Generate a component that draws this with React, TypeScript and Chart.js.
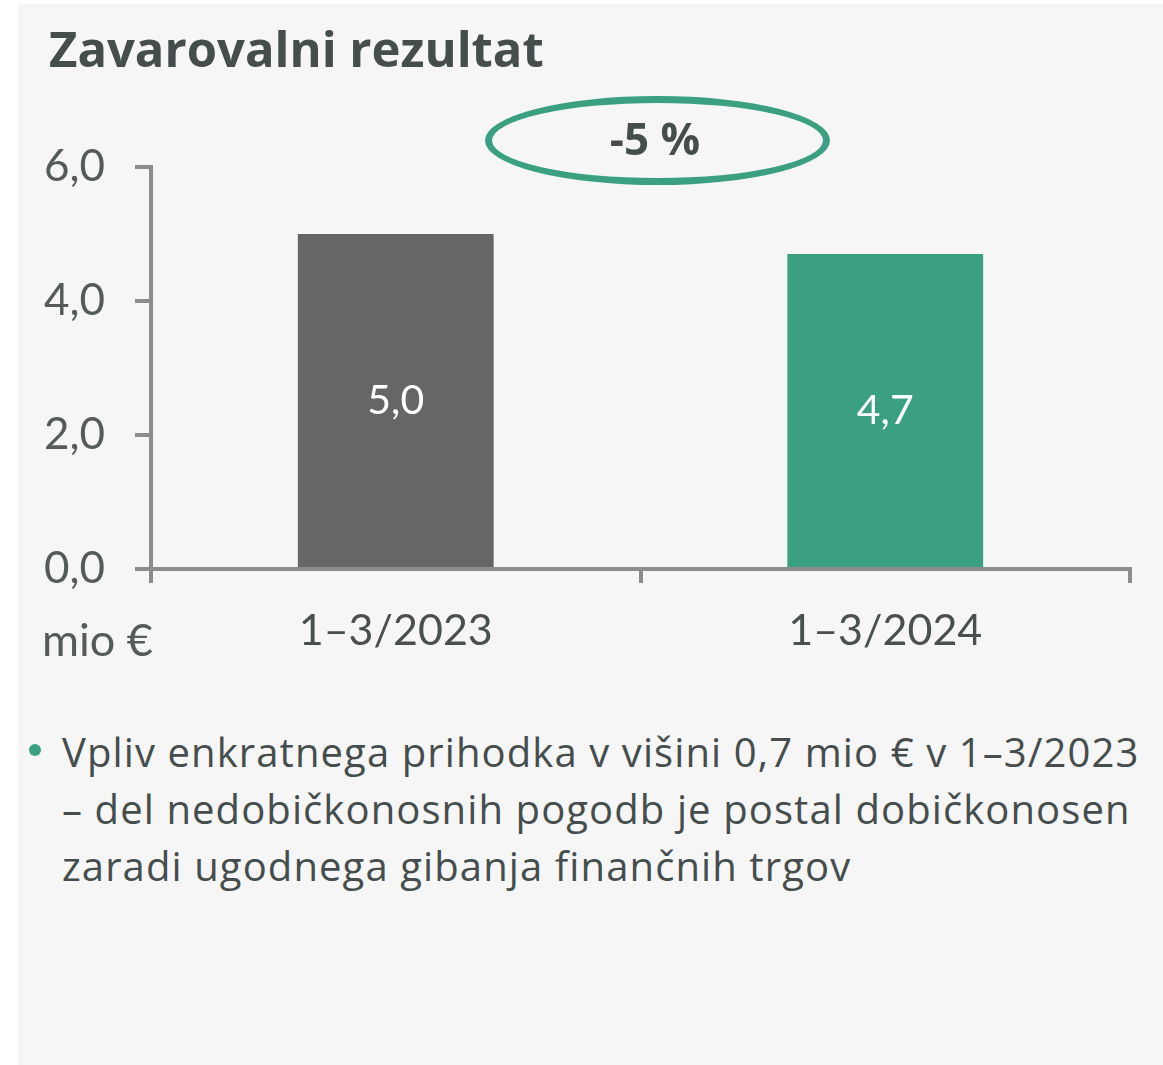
import React, { useEffect, useRef } from "react";
import { Chart, registerables } from "chart.js";

Chart.register(...registerables);

const categories = ["1–3/2023", "1–3/2024"];
const barValues = [5.0, 4.7];
const barColors = ["#666666", "#3ba082"];
const yTicks = [0, 2, 4, 6];
const titleText = "Zavarovalni rezultat";
const changeText = "-5 %";
const unitText = "mio €";
const bulletLines = [
  "Vpliv enkratnega prihodka v višini 0,7 mio € v 1–3/2023",
  "– del nedobičkonosnih pogodb je postal dobičkonosen",
  "zaradi ugodnega gibanja finančnih trgov",
];

const AXIS = "#8c8c8c";
const TEXT = "#454d4d";
const GREEN = "#3ba082";

const fmt = (v: number) => v.toFixed(1).replace(".", ",");

const barLabelPlugin = {
  id: "barLabels",
  afterDatasetsDraw(chart: any) {
    const ctx = chart.ctx;
    const meta = chart.getDatasetMeta(0);
    ctx.save();
    ctx.fillStyle = "#ffffff";
    ctx.font = "41px Lato";
    ctx.textAlign = "center";
    ctx.textBaseline = "middle";
    meta.data.forEach((bar: any, i: number) => {
      const v = chart.data.datasets[0].data[i] as number;
      ctx.fillText(fmt(v), bar.x, (bar.y + bar.base) / 2);
    });
    ctx.restore();
  },
};

export default function App() {
  const ref = useRef<HTMLCanvasElement | null>(null);

  useEffect(() => {
    if (!ref.current) return;
    const chart = new Chart(ref.current, {
      type: "bar",
      data: {
        labels: categories,
        datasets: [
          {
            data: barValues,
            backgroundColor: barColors,
            borderWidth: 0,
            categoryPercentage: 0.8,
            barPercentage: 0.5,
          },
        ],
      },
      options: {
        animation: false,
        responsive: false,
        devicePixelRatio: 1,
        layout: { padding: { left: 0, top: 167, right: 33, bottom: 0 } },
        plugins: { legend: { display: false }, tooltip: { enabled: false } },
        scales: {
          x: {
            grid: {
              display: true,
              drawOnChartArea: false,
              drawTicks: true,
              tickLength: 14,
              color: AXIS,
              lineWidth: 4,
              offset: true,
            },
            border: { display: true, color: AXIS, width: 4 },
            ticks: {
              font: { family: "Lato", size: 43 },
              color: "#4a4f4f",
              padding: 22,
            },
            afterFit: (s: any) => {
              s.height = 131;
            },
          },
          y: {
            min: 0,
            max: 6,
            afterBuildTicks: (s: any) => {
              s.ticks = yTicks.map((v) => ({ value: v }));
            },
            grid: {
              display: true,
              drawOnChartArea: false,
              drawTicks: true,
              tickLength: 16,
              color: AXIS,
              lineWidth: 4,
            },
            border: { display: true, color: AXIS, width: 4 },
            ticks: {
              font: { family: "Lato", size: 44 },
              color: "#555a5a",
              padding: 30,
              callback: (v: any) => fmt(Number(v)),
            },
            afterFit: (s: any) => {
              s.width = 151;
            },
          },
        },
      },
      plugins: [barLabelPlugin],
    });
    return () => chart.destroy();
  }, []);

  return (
    <div
      style={{
        position: "absolute",
        left: 0,
        top: 0,
        width: 1163,
        height: 1065,
        background: "#ffffff",
        overflow: "hidden",
      }}
    >
      <div
        style={{
          position: "absolute",
          left: 18,
          top: 4,
          width: 1145,
          height: 1061,
          background: "#f6f6f6",
        }}
      />
      <canvas
        ref={ref}
        width={1163}
        height={700}
        style={{ position: "absolute", left: 0, top: 0, width: 1163, height: 700 }}
      />
      <div
        style={{
          position: "absolute",
          left: 49,
          top: 23,
          fontFamily: "'Open Sans'",
          fontWeight: 700,
          fontSize: 49,
          lineHeight: "50px",
          color: TEXT,
          whiteSpace: "nowrap",
        }}
      >
        {titleText}
      </div>
      <div
        style={{
          position: "absolute",
          left: 485,
          top: 96,
          width: 345,
          height: 89,
          boxSizing: "border-box",
          border: `7px solid ${GREEN}`,
          borderRadius: "50%",
        }}
      />
      <div
        style={{
          position: "absolute",
          left: 485,
          top: 96,
          width: 340,
          height: 84,
          display: "flex",
          alignItems: "center",
          justifyContent: "center",
          fontFamily: "'Open Sans'",
          fontWeight: 700,
          fontSize: 44,
          color: TEXT,
          whiteSpace: "nowrap",
        }}
      >
        {changeText}
      </div>
      <div
        style={{
          position: "absolute",
          left: 42,
          top: 617,
          fontFamily: "Lato",
          fontSize: 45,
          lineHeight: "44px",
          color: "#555a5a",
          whiteSpace: "nowrap",
        }}
      >
        {unitText}
      </div>
      <div
        style={{
          position: "absolute",
          left: 29,
          top: 744,
          width: 12,
          height: 12,
          borderRadius: "50%",
          background: GREEN,
        }}
      />
      <div
        style={{
          position: "absolute",
          left: 62,
          top: 723,
          fontFamily: "'Open Sans'",
          fontSize: 40,
          letterSpacing: "1.1px",
          lineHeight: "57px",
          color: TEXT,
          whiteSpace: "nowrap",
        }}
      >
        {bulletLines.map((l, i) => (
          <div key={i}>{l}</div>
        ))}
      </div>
    </div>
  );
}
